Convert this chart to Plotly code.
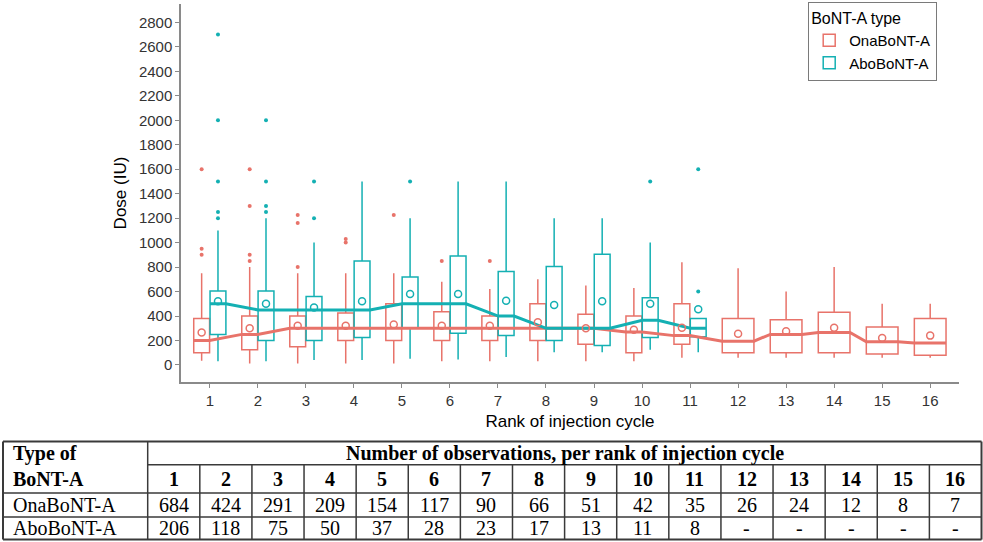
import plotly.graph_objects as go

# ---------------- data ----------------
cycles = list(range(1, 17))

# OnaBoNT-A box statistics (cycles 1-16)
ona_q1 = [100, 125, 150, 200, 200, 200, 200, 200, 170, 100, 170, 100, 100, 100, 90, 80]
ona_median = [200, 250, 300, 300, 300, 300, 300, 300, 300, 270, 240, 195, 250, 265, 190, 180]
ona_q3 = [380, 400, 400, 425, 500, 435, 400, 500, 415, 400, 500, 380, 370, 430, 310, 380]
ona_low = [35, 12, 12, 12, 12, 30, 30, 30, 30, 30, 60, 60, 60, 60, 60, 60]
ona_high = [750, 800, 750, 750, 750, 680, 620, 700, 650, 630, 840, 790, 600, 800, 500, 500]
ona_mean = [265, 300, 320, 320, 330, 320, 320, 350, 300, 288, 305, 255, 275, 305, 220, 240]

# AboBoNT-A box statistics (cycles 1-11)
abo_cycles = list(range(1, 12))
abo_q1 = [250, 200, 200, 225, 300, 260, 240, 200, 160, 225, 230]
abo_median = [500, 450, 450, 450, 500, 500, 400, 300, 300, 365, 300]
abo_q3 = [605, 605, 560, 850, 720, 890, 765, 805, 905, 550, 380]
abo_low = [30, 30, 40, 40, 50, 45, 65, 105, 105, 125, 105]
abo_high = [1100, 1200, 1000, 1500, 1200, 1500, 1500, 1200, 1200, 1000, 380]
abo_mean = [520, 500, 470, 520, 580, 580, 525, 490, 520, 500, 455]

# outliers
ona_out_cycle = [1, 1, 1, 2, 2, 2, 2, 3, 3, 3, 4, 4, 5, 6, 7]
ona_out_dose = [1600, 950, 900, 1600, 1300, 900, 850, 1225, 1160, 800, 1030, 1000, 1225, 850, 850]
abo_out_cycle = [1, 1, 1, 1, 1, 2, 2, 2, 2, 3, 3, 5, 10, 11, 11]
abo_out_dose = [2700, 2000, 1500, 1250, 1200, 2000, 1500, 1300, 1250, 1500, 1200, 1500, 1500, 1600, 600]

# table of observation counts
obs_ona = ["684", "424", "291", "209", "154", "117", "90", "66", "51", "42", "35", "26", "24", "12", "8", "7"]
obs_abo = ["206", "118", "75", "50", "37", "28", "23", "17", "13", "11", "8", "-", "-", "-", "-", "-"]

y_ticks = list(range(0, 2801, 200))

# ---------------- styling ----------------
RED = "#E8736A"
TEAL = "#14B0B3"
W, H = 983, 542
ML, MR, MT, MB = 181, 24, 3, 160
PW, PH = W - ML - MR, H - MT - MB

dodge = 0.17
bw = 0.33
n_abo = len(abo_cycles)

ona_pos = [c - dodge if c <= n_abo else c for c in cycles]
ona_w = [bw if c <= n_abo else 2 * bw for c in cycles]
abo_pos = [c + dodge for c in abo_cycles]

fig = go.Figure()


def add_box(pos, q1, med, q3, lo, hi, color, width, name, show):
    fig.add_trace(go.Box(
        x=pos, q1=q1, median=med, q3=q3, lowerfence=lo, upperfence=hi,
        width=width, boxpoints=False, name=name, legendgroup=name,
        showlegend=show, line=dict(color=color, width=1.5),
        fillcolor="rgba(255,255,255,0)", whiskerwidth=0,
    ))


idx_a = [i for i, c in enumerate(cycles) if c <= n_abo]
idx_b = [i for i, c in enumerate(cycles) if c > n_abo]


def sel(arr, idx):
    return [arr[i] for i in idx]


add_box(sel(ona_pos, idx_a), sel(ona_q1, idx_a), sel(ona_median, idx_a), sel(ona_q3, idx_a),
        sel(ona_low, idx_a), sel(ona_high, idx_a), RED, bw, "OnaBoNT-A", True)
add_box(abo_pos, abo_q1, abo_median, abo_q3, abo_low, abo_high, TEAL, bw, "AboBoNT-A", True)
add_box(sel(ona_pos, idx_b), sel(ona_q1, idx_b), sel(ona_median, idx_b), sel(ona_q3, idx_b),
        sel(ona_low, idx_b), sel(ona_high, idx_b), RED, 2 * bw, "OnaBoNT-A", False)


# median connecting lines (flat across each box, then to the next box)
def median_line(pos, widths, med, color, name):
    xs, ys = [], []
    for p, w, m in zip(pos, widths, med):
        xs += [p - w / 2, p + w / 2]
        ys += [m, m]
    fig.add_trace(go.Scatter(x=xs, y=ys, mode="lines", line=dict(color=color, width=3),
                             showlegend=False, legendgroup=name, hoverinfo="skip"))


median_line(ona_pos, ona_w, ona_median, RED, "OnaBoNT-A")
median_line(abo_pos, [bw] * n_abo, abo_median, TEAL, "AboBoNT-A")

# means
fig.add_trace(go.Scatter(x=ona_pos, y=ona_mean, mode="markers", showlegend=False,
                         legendgroup="OnaBoNT-A",
                         marker=dict(symbol="circle-open", size=7, color=RED, line=dict(width=1.5))))
fig.add_trace(go.Scatter(x=abo_pos, y=abo_mean, mode="markers", showlegend=False,
                         legendgroup="AboBoNT-A",
                         marker=dict(symbol="circle-open", size=7, color=TEAL, line=dict(width=1.5))))

# outliers
fig.add_trace(go.Scatter(x=[c - dodge for c in ona_out_cycle], y=ona_out_dose, mode="markers",
                         showlegend=False, legendgroup="OnaBoNT-A",
                         marker=dict(size=4, color=RED)))
fig.add_trace(go.Scatter(x=[c + dodge for c in abo_out_cycle], y=abo_out_dose, mode="markers",
                         showlegend=False, legendgroup="AboBoNT-A",
                         marker=dict(size=4, color=TEAL)))

AX_COL = "#8a8a8a"
fig.update_layout(
    width=W, height=H,
    margin=dict(l=ML, r=MR, t=MT, b=MB, pad=0),
    paper_bgcolor="white", plot_bgcolor="white",
    boxmode="overlay",
    font=dict(family="Liberation Sans, Arial, sans-serif", color="#333333", size=15),
    xaxis=dict(
        range=[0.4, 16.6], tickmode="array", tickvals=cycles, ticktext=[str(c) for c in cycles],
        showgrid=False, zeroline=False, showline=True, linecolor=AX_COL, linewidth=1.5,
        ticks="outside", ticklen=4, tickcolor=AX_COL, tickfont=dict(size=15, color="#333333"),
        title=dict(text="Rank of injection cycle", font=dict(size=17, color="#000000"), standoff=7),
    ),
    yaxis=dict(
        range=[-139, 2950], tickmode="array", tickvals=y_ticks, ticktext=[str(v) for v in y_ticks],
        showgrid=False, zeroline=False, showline=True, linecolor=AX_COL, linewidth=1.5,
        ticks="outside", ticklen=4, tickcolor=AX_COL, tickfont=dict(size=15, color="#333333"),
        title=dict(text="Dose (IU)", font=dict(size=17, color="#000000"), standoff=8),
    ),
    legend=dict(
        x=(808 - ML) / PW, y=(MT + PH - 2) / PH, xanchor="left", yanchor="top",
        bordercolor="#7a7a7a", borderwidth=1.2, bgcolor="white",
        title=dict(text="BoNT-A type", font=dict(size=16, color="#000000")),
        font=dict(size=15, color="#000000"), itemwidth=30, tracegroupgap=0,
    ),
)


# ---------------- table (drawn in paper coords) ----------------
def px_x(px):
    return (px - ML) / PW


def px_y(py):
    return (MT + PH - py) / PH


T_LEFT, T_RIGHT = 3, 981.5
C0 = 147.7
CW = (T_RIGHT - C0) / len(cycles)
R_TOP, R_H1, R_H2, R_ONA, R_BOT = 441.7, 465.0, 493.3, 517.3, 540.0
LC = "#3a3a3a"


def hline(x0, x1, y, w=1.5):
    fig.add_shape(type="line", xref="paper", yref="paper", x0=px_x(x0), x1=px_x(x1),
                  y0=px_y(y), y1=px_y(y), line=dict(color=LC, width=w))


def vline(x, y0, y1, w=1.5):
    fig.add_shape(type="line", xref="paper", yref="paper", x0=px_x(x), x1=px_x(x),
                  y0=px_y(y0), y1=px_y(y1), line=dict(color=LC, width=w))


hline(T_LEFT, T_RIGHT, R_TOP, 2)
hline(C0, T_RIGHT, R_H1)
hline(T_LEFT, T_RIGHT, R_H2)
hline(T_LEFT, T_RIGHT, R_ONA)
hline(T_LEFT, T_RIGHT, R_BOT, 2)
vline(T_LEFT, R_TOP, R_BOT, 2)
vline(C0, R_TOP, R_BOT)
vline(T_RIGHT, R_TOP, R_BOT, 2)
for k in range(1, len(cycles)):
    vline(C0 + k * CW, R_H1, R_BOT)

SERIF = "Liberation Serif, Times New Roman, serif"
FS = 20


def txt(text, px, py, bold=False, anchor="center"):
    fig.add_annotation(
        text=f"<b>{text}</b>" if bold else text, xref="paper", yref="paper",
        x=px_x(px), y=px_y(py), xanchor=anchor, yanchor="middle", showarrow=False,
        font=dict(family=SERIF, size=FS, color="#000000"),
    )


txt("Type of", 11, (R_TOP + R_H1) / 2, bold=True, anchor="left")
txt("BoNT-A", 11, (R_H1 + R_H2) / 2, bold=True, anchor="left")
txt("Number of observations, per rank of injection cycle", (C0 + T_RIGHT) / 2,
    (R_TOP + R_H1) / 2, bold=True)
txt("OnaBoNT-A", 11, (R_H2 + R_ONA) / 2, anchor="left")
txt("AboBoNT-A", 11, (R_ONA + R_BOT) / 2, anchor="left")
for k, c in enumerate(cycles):
    cx = C0 + (k + 0.5) * CW
    txt(str(c), cx, (R_H1 + R_H2) / 2, bold=True)
    txt(obs_ona[k], cx, (R_H2 + R_ONA) / 2)
    txt(obs_abo[k], cx, (R_ONA + R_BOT) / 2)

fig.write_html("out.html")
